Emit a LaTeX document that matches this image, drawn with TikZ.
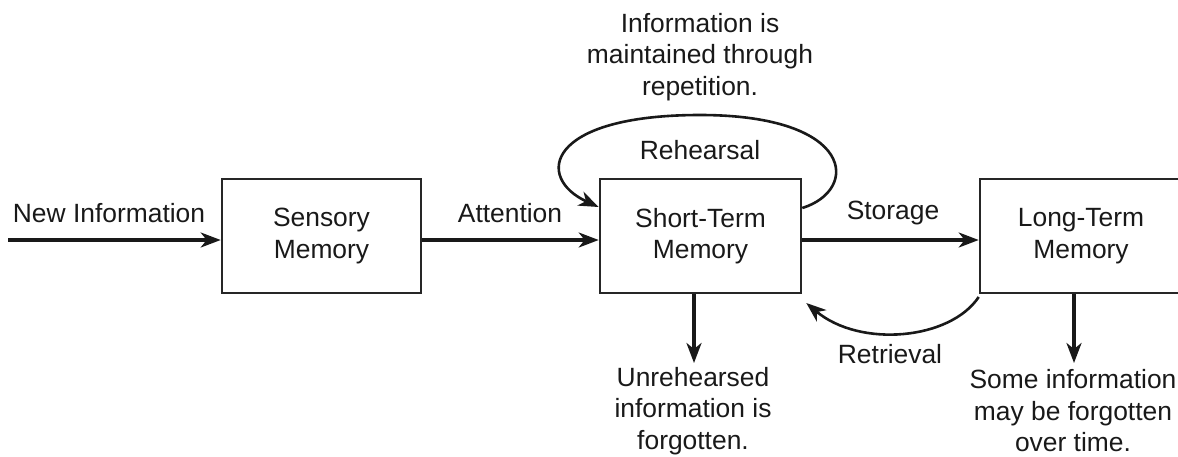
\documentclass[tikz,border=0pt]{standalone}
\usepackage{fontspec}
\setmainfont{Liberation Sans}
\usetikzlibrary{arrows.meta}
\begin{document}
\begin{tikzpicture}[x=1pt,y=-1pt,
  every node/.style={font=\fontsize{26.4}{31.5}\selectfont, text=black!90},
  membox/.style={draw=black!85, line width=2.6pt, minimum height=114pt, align=center, inner sep=0pt},
  lbl/.style={align=center, inner sep=0pt},
  conn/.style={line width=3.2pt, draw=black!90, -{Stealth[length=20pt,width=15pt,inset=6pt]}}
]
\useasboundingbox (0,0) rectangle (1178,456);
\node[membox, minimum width=199pt] (S) at (321.5,236) {Sensory\\Memory};
\node[membox, minimum width=201pt] (STM) at (700.5,236) {Short-Term\\Memory};
\node[membox, minimum width=202pt] (LTM) at (1081,236) {Long-Term\\Memory};
\coordinate (start) at (8,240);
\coordinate (unrehtip) at (694,363);
\coordinate (sometip) at (1074,363);
\node[lbl] (newinfo) at (109,213) {New Information};
\node[lbl] (att) at (510,213) {Attention};
\node[lbl] (stor) at (893,213) {Storage};
\node[lbl] (reh) at (700,150) {Rehearsal};
\node[lbl] (ret) at (890,354) {Retrieval};
\node[lbl] (top) at (700,57) {Information is\\maintained through\\repetition.};
\node[lbl] (unreh) at (693,411) {Unrehearsed\\information is\\forgotten.};
\node[lbl] (some) at (1073,411) {Some information\\may be forgotten\\over time.};
\draw[conn] (start) -- ([yshift=-4pt]S.west);
\draw[conn] ([yshift=-4pt]S.east) -- ([yshift=-4pt]STM.west);
\draw[conn] ([yshift=-4pt]STM.east) -- ([yshift=-4pt]LTM.west);
\draw[conn] (STM.south -| unrehtip) -- (unrehtip);
\draw[conn] (LTM.south -| sometip) -- (sometip);
\draw[conn, line width=2.6pt] ([yshift=28pt]STM.east) .. controls (860,190) and (855,115) .. (700,115)
  .. controls (545,115) and (535,178) .. ([yshift=29pt]STM.west);
\draw[conn, line width=2.6pt] ([yshift=-61pt]LTM.west) .. controls (950,340) and (860,348) .. ([xshift=4pt,yshift=-67pt]STM.east);
\end{tikzpicture}
\end{document}
